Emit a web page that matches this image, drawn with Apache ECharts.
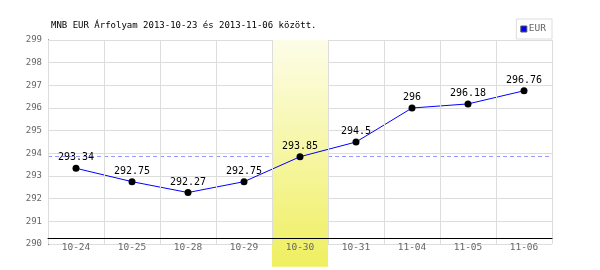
<!DOCTYPE html>
<html><head><meta charset="utf-8">
<script src="https://cdn.jsdelivr.net/npm/echarts@6/dist/echarts.min.js"></script>
<style>html,body{margin:0;padding:0;background:#fff}#c{width:600px;height:270px}</style>
</head><body><div id="c"></div>
<script>
const titleText = 'MNB EUR Árfolyam 2013-10-23 és 2013-11-06 között.';
const categories = ['10-24','10-25','10-28','10-29','10-30','10-31','11-04','11-05','11-06'];
const eurValues = [293.34, 292.75, 292.27, 292.75, 293.85, 294.5, 296, 296.18, 296.76];
const highlightDay = '10-30';
const referenceValue = 293.85;
const yMin = 290, yMax = 299;
const bandBottomValue = 289;

const chart = echarts.init(document.getElementById('c'));
const mono = 'DejaVu Sans Mono';
chart.setOption({
  animation: false,
  title: { text: titleText, left: 46, top: 16, textStyle: { fontFamily: mono, fontSize: 9, fontWeight: 'normal', color: '#000' } },
  legend: {
    data: [{ name: 'EUR', itemStyle: { color: '#0000ff', borderColor: '#555', borderWidth: 1 } }],
    right: 48, top: 19, orient: 'vertical',
    borderColor: '#ddd', borderWidth: 1, padding: [5, 6, 5, 4],
    icon: 'rect', itemWidth: 6, itemHeight: 6, itemGap: 0,
    textStyle: { fontFamily: mono, fontSize: 9.5, color: '#666', padding: [0,0,0,-3] }
  },
  grid: { left: 48, right: 48, top: 40, bottom: 26 },
  xAxis: {
    type: 'category', data: categories, boundaryGap: true, offset: -6, z: 5,
    axisLine: { lineStyle: { color: '#000', width: 1 } },
    axisTick: { show: false },
    axisLabel: { fontFamily: mono, fontSize: 9.5, color: '#666', margin: 5 },
    splitLine: { show: true, lineStyle: { color: '#ddd' } }
  },
  yAxis: {
    type: 'value', min: yMin, max: yMax, interval: 1,
    axisLine: { show: true, lineStyle: { color: '#000', width: 1 } },
    axisTick: { show: false },
    axisLabel: { fontFamily: mono, fontSize: 9, color: '#666', margin: 6 },
    splitLine: { lineStyle: { color: '#ddd' } }
  },
  series: [{
    name: 'EUR', type: 'line', data: eurValues, z: 3,
    itemStyle: { color: '#000' },
    lineStyle: { color: '#0000ff', width: 1 },
    symbol: 'circle', symbolSize: 7,
    emphasis: { disabled: true },
    label: { show: true, position: 'top', distance: 2, fontFamily: mono, fontSize: 10, color: '#000' },
    markLine: {
      silent: true, symbol: 'none', label: { show: false }, z: 1,
      lineStyle: { color: '#9999ff', type: [4, 3], width: 1 },
      data: [{ yAxis: referenceValue }]
    }
  }]
});
// highlighted day band, positioned through the chart's own scales
const idx = categories.indexOf(highlightDay);
const pL = chart.convertToPixel({ gridIndex: 0 }, [idx, yMax]);
const pNext = chart.convertToPixel({ gridIndex: 0 }, [idx + 1, yMax]);
const pPrev = chart.convertToPixel({ gridIndex: 0 }, [idx - 1, yMax]);
const pB = chart.convertToPixel({ gridIndex: 0 }, [idx, bandBottomValue]);
const halfW = (pNext[0] - pPrev[0]) / 4;
chart.setOption({
  graphic: [{
    type: 'rect', z: 2, silent: true,
    shape: { x: pL[0] - halfW, y: pL[1], width: halfW * 2, height: pB[1] - pL[1] },
    style: { fill: { type: 'linear', x: 0, y: 0, x2: 0, y2: 1, colorStops: [{ offset: 0, color: '#fdfde8' }, { offset: 1, color: '#efef60' }] } }
  }]
});
</script></body></html>
